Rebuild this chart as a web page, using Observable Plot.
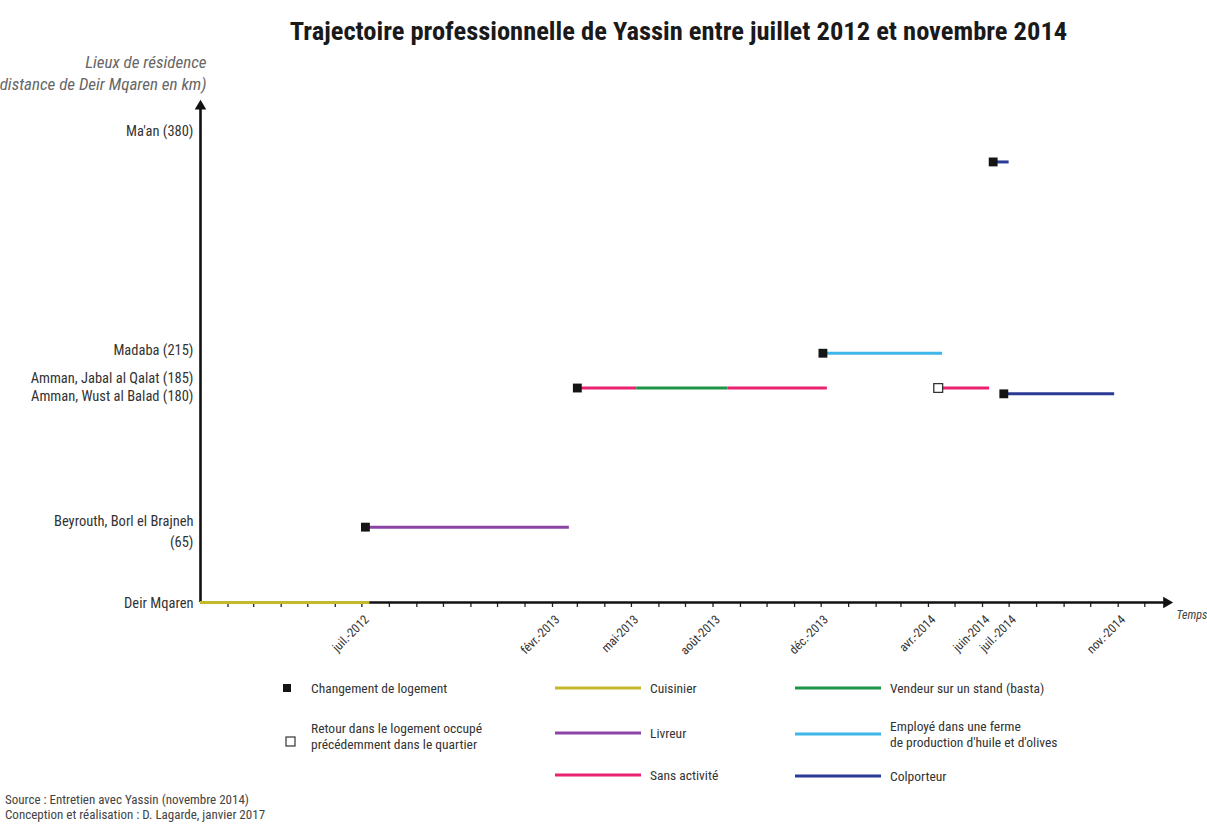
<!DOCTYPE html>
<html>
<head>
<meta charset="utf-8">
<script src="https://cdn.jsdelivr.net/npm/d3@7"></script>
<script src="https://cdn.jsdelivr.net/npm/@observablehq/plot@0.6"></script>
<style>
  html, body { margin: 0; padding: 0; background: #fff; }
  body { width: 1207px; height: 832px; position: relative; overflow: hidden;
         font-family: "Roboto Condensed", "Liberation Sans Narrow", "DejaVu Sans Condensed", sans-serif;
         font-stretch: condensed; color: #333; }
  #title { position: absolute; left: 150px; right: 0; top: 15px; text-align: center;
           font-size: 26.5px; font-weight: bold; color: #1a1a1a; line-height: 32px; }
  #chart { position: absolute; left: 0; top: 50px; }
  #chart svg text { font-stretch: condensed; }
  .lg { position: absolute; font-size: 13.5px; color: #333; line-height: 16.5px; white-space: nowrap; }
  .sw { position: absolute; }
  #source { position: absolute; left: 5px; top: 792px; font-size: 13px; line-height: 15px; color: #444; }
</style>
</head>
<body>
<div id="title">Trajectoire professionnelle de Yassin entre juillet 2012 et novembre 2014</div>
<div id="chart"></div>
<div id="legend"></div>
<div id="source">Source : Entretien avec Yassin (novembre 2014)<br>Conception et réalisation : D. Lagarde, janvier 2017</div>
<script>
// ---------- data ----------
const activities = [
  "Cuisinier",
  "Livreur",
  "Sans activité",
  "Vendeur sur un stand (basta)",
  "Employé dans une ferme de production d'huile et d'olives",
  "Colporteur"
];
const activityColors = ["#c2ba2c", "#8b44a6", "#ea2270", "#1c9548", "#3fb5e8", "#2b3b95"];

// activity segments (start date, end date, distance km, activity)
const segStart    = ["2012-01-01", "2012-07-05", "2013-03-01", "2013-05-07", "2013-08-18", "2013-12-03", "2014-04-12", "2014-06-13", "2014-06-25"];
const segEnd      = ["2012-07-10", "2013-02-20", "2013-05-07", "2013-08-18", "2013-12-08", "2014-04-17", "2014-06-09", "2014-07-01", "2014-10-28"];
const segKm       = [0, 65, 185, 185, 185, 215, 185, 380, 180];
const segActivity = ["Cuisinier", "Livreur", "Sans activité", "Vendeur sur un stand (basta)", "Sans activité",
                     "Employé dans une ferme de production d'huile et d'olives", "Sans activité", "Colporteur", "Colporteur"];

// moves (date, km, type)
const moveDates = ["2012-07-05", "2013-03-01", "2013-12-03", "2014-04-12", "2014-06-13", "2014-06-25"];
const moveKm    = [65, 185, 215, 185, 380, 180];
const moveType  = ["change", "change", "change", "return", "change", "change"];

// places of residence (y axis)
const placeNames = ["Ma'an (380)", "Madaba (215)", "Amman, Jabal al Qalat (185)", "Amman, Wust al Balad (180)",
                    "Beyrouth, Borl el Brajneh\n(65)", "Deir Mqaren"];
const placeKm    = [380, 215, 185, 180, 65, 0];

// x tick labels
const tickDates = ["2012-07-01", "2013-02-01", "2013-05-01", "2013-08-01", "2013-12-01", "2014-04-01", "2014-06-01", "2014-07-01", "2014-11-01"];
const tickTexts = ["juil.-2012", "févr.-2013", "mai-2013", "août-2013", "déc.-2013", "avr.-2014", "juin-2014", "juil.-2014", "nov.-2014"];

const xStart = "2012-01-01", xEnd = "2014-12-30";
const yMax = 433;

// ---------- build ----------
const P = s => new Date(s + "T00:00:00Z");
const segments = segStart.map((s, i) => ({x1: P(s), x2: P(segEnd[i]), y: segKm[i], activity: segActivity[i]}));
const moves = moveDates.map((d, i) => ({x: P(d), y: moveKm[i], type: moveType[i]}));
const places = placeNames.map((n, i) => ({name: n, km: placeKm[i]}));
const ticks = tickDates.map((d, i) => ({x: P(d), text: tickTexts[i]}));
const months = d3.utcMonth.range(P("2012-02-01"), P("2015-01-01"));
const x0 = P(xStart), x1 = P(xEnd);

const labelNudge = {380: -33, 215: -5, 185: -12, 180: 0, 65: 3, 0: -1};
const FONT = "Roboto Condensed, Liberation Sans Narrow, DejaVu Sans Condensed, sans-serif";

const plot = Plot.plot({
  width: 1207,
  height: 620,
  marginLeft: 200,
  marginRight: 37,
  marginTop: 50,
  marginBottom: 68,
  style: {fontFamily: FONT, background: "transparent"},
  x: {type: "utc", domain: [x0, x1]},
  y: {domain: [0, yMax], axis: null},
  color: {domain: activities, range: activityColors},
  marks: [
    // monthly ticks
    Plot.axisX({ticks: months, tickSize: 5, tickFormat: () => "", label: null, stroke: "#222", strokeWidth: 1.3}),
    // axes with arrows
    Plot.ruleX([x0], {y1: 0, y2: yMax - 3, stroke: "#111", strokeWidth: 2.6}),
    Plot.dot([x0], {x: d => d, y: yMax - 5, symbol: "triangle2", r: 5.5, fill: "#111", stroke: null}),
    Plot.ruleY([0], {x1: x0, x2: x1, stroke: "#111", strokeWidth: 2.6}),
    Plot.dot([x1], {x: d => d, y: 0, symbol: "triangle2", r: 5.5, rotate: 90, fill: "#111", stroke: null, dx: -4}),
    // x tick labels
    Plot.text(ticks, {x: "x", y: 0, text: "text", rotate: -45, textAnchor: "end", dx: 5, dy: 15,
                      fontSize: 12.5, fill: "#333"}),
    Plot.text(["Temps"], {x: x1, y: 0, text: d => d, textAnchor: "start", dx: 6, dy: 13,
                          fontSize: 12, fontStyle: "italic", fill: "#444"}),
    // y labels
    ...places.map(p => Plot.text([p], {x: x0, y: "km", text: "name", textAnchor: "end", dx: -7,
                                       dy: labelNudge[p.km], fontSize: 14.5, fill: "#333", lineHeight: 1.45})),
    Plot.text(["Lieux de résidence\ndistance de Deir Mqaren en km)"], {
      x: x0, y: yMax, text: d => d, textAnchor: "end", lineAnchor: "bottom", dx: 6, dy: -11,
      fontSize: 17, fontStyle: "italic", fill: "#666", lineHeight: 1.25}),
    // activity segments
    Plot.ruleY(segments, {x1: "x1", x2: "x2", y: "y", stroke: "activity", strokeWidth: 3}),
    // moves
    Plot.dot(moves.filter(d => d.type === "change"), {x: "x", y: "y", symbol: "square", r: 5, fill: "#141414", stroke: null}),
    Plot.dot(moves.filter(d => d.type === "return"), {x: "x", y: "y", symbol: "square", r: 5, fill: "#fff", stroke: "#333", strokeWidth: 1.3})
  ]
});
document.getElementById("chart").appendChild(plot);

// ---------- legend ----------
const legend = document.getElementById("legend");
function add(html) { legend.insertAdjacentHTML("beforeend", html); }
function lineSwatch(left, y, color) {
  add(`<svg class="sw" style="left:${left}px;top:${y - 3}px" width="86" height="6"><line x1="0" x2="86" y1="3" y2="3" stroke="${color}" stroke-width="3"/></svg>`);
}
function label(left, yCenter, text, lines) {
  const h = 16.5 * lines;
  add(`<div class="lg" style="left:${left}px;top:${yCenter - h / 2}px">${text}</div>`);
}
const colorOf = a => activityColors[activities.indexOf(a)];
// symbols
add(`<svg class="sw" style="left:282px;top:683px" width="10" height="10"><rect x="1" y="1" width="8" height="8" fill="#141414"/></svg>`);
label(311, 688, "Changement de logement", 1);
add(`<svg class="sw" style="left:285px;top:736px" width="11" height="11"><rect x="1" y="1" width="9" height="9" fill="#fff" stroke="#333" stroke-width="1.2"/></svg>`);
label(311, 736, "Retour dans le logement occupé<br>précédemment dans le quartier", 2);
// activities
lineSwatch(555, 688, colorOf("Cuisinier"));      label(650, 688, "Cuisinier", 1);
lineSwatch(555, 733, colorOf("Livreur"));        label(650, 733, "Livreur", 1);
lineSwatch(555, 775, colorOf("Sans activité"));  label(650, 775, "Sans activité", 1);
lineSwatch(795, 688, colorOf("Vendeur sur un stand (basta)")); label(890, 688, "Vendeur sur un stand (basta)", 1);
lineSwatch(795, 734, colorOf("Employé dans une ferme de production d'huile et d'olives"));
label(890, 734, "Employé dans une ferme<br>de production d'huile et d'olives", 2);
lineSwatch(795, 776, colorOf("Colporteur"));     label(890, 776, "Colporteur", 1);
</script>
</body>
</html>
